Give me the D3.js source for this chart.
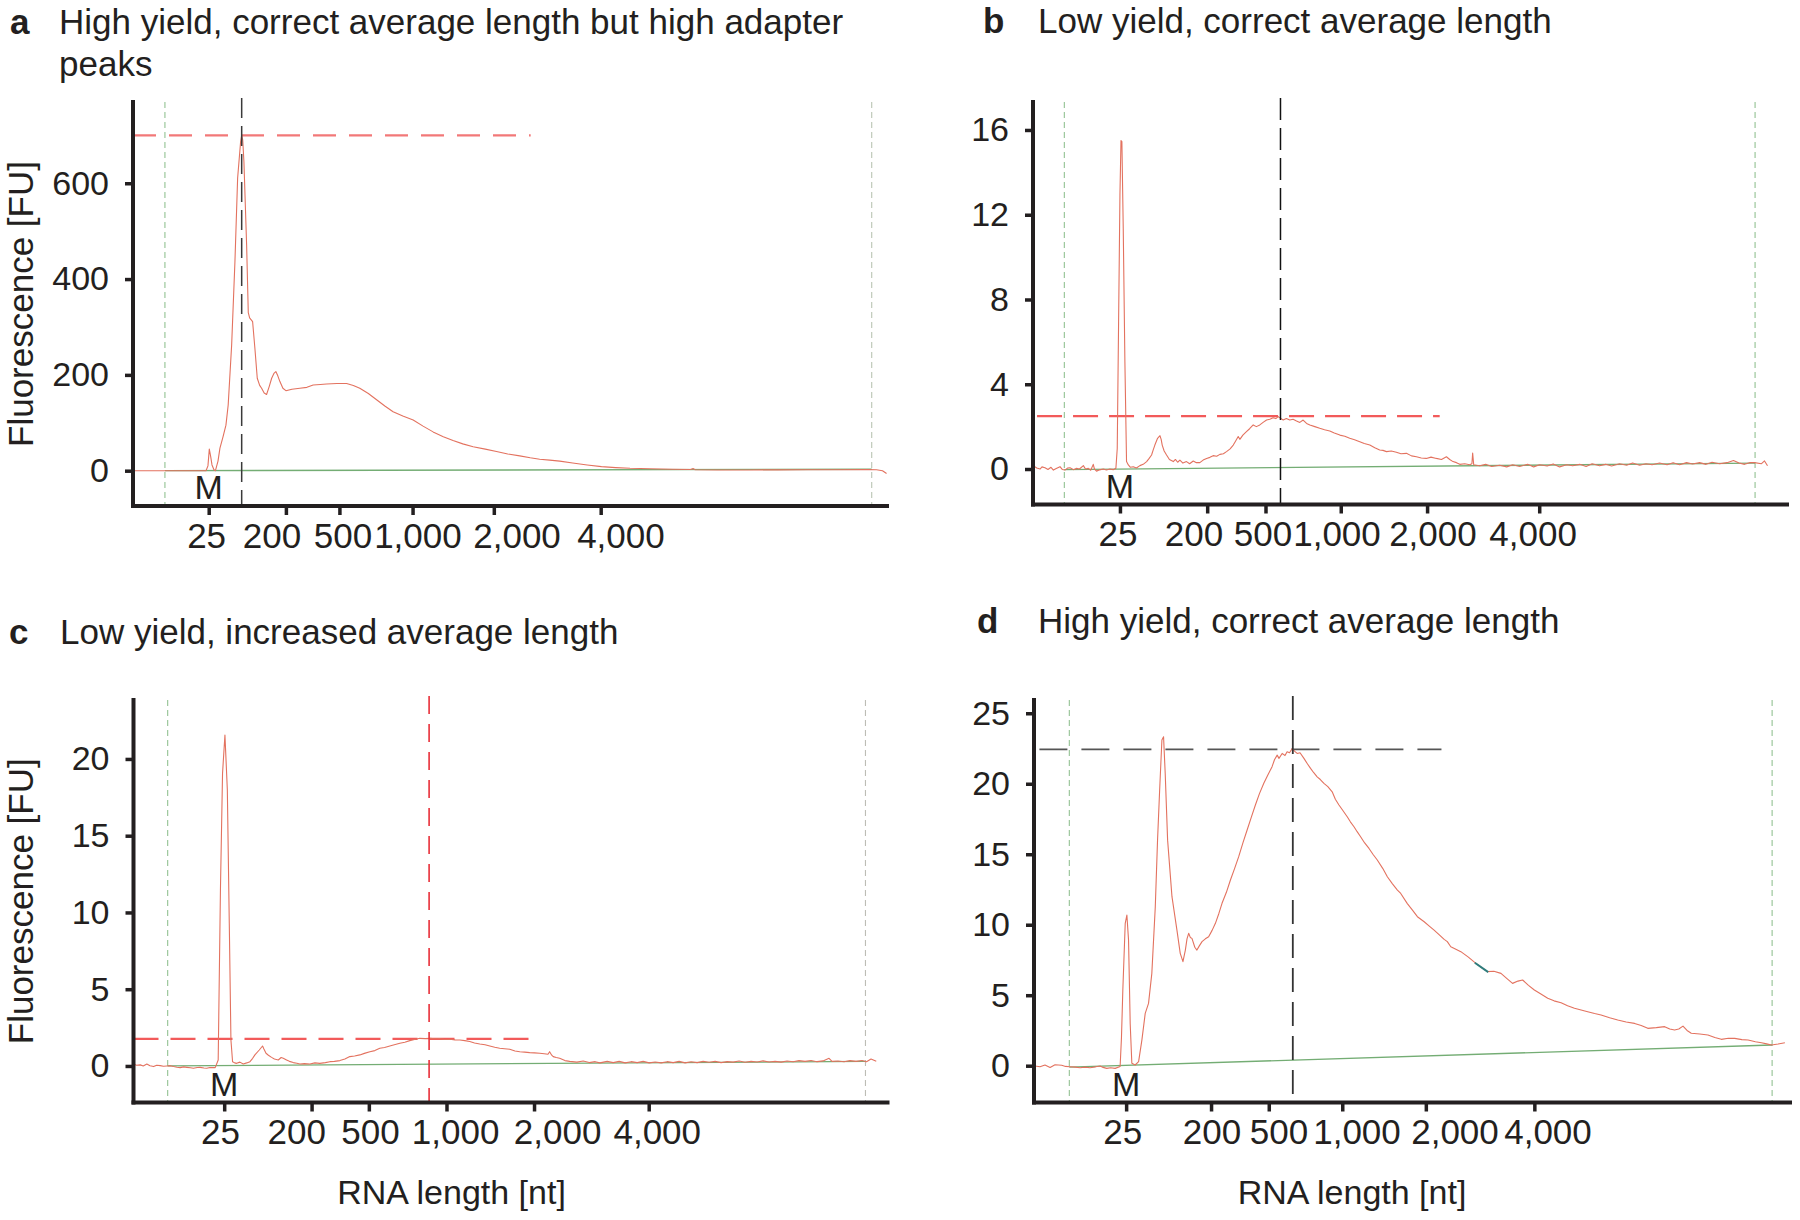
<!DOCTYPE html>
<html><head><meta charset="utf-8">
<script src="https://cdn.jsdelivr.net/npm/d3@7"></script>
<style>body{margin:0;background:#fff}</style>
</head><body>
<svg id="chart" width="1800" height="1220"></svg>
<script>
// ---------------- DATA ----------------
// x values: migration time (s); tick labels are ladder sizes (nt)
const xDomain = [19, 69.3];
const ladderLabels = ["25", "200", "500", "1,000", "2,000", "4,000"];
const panelLetters = ["a", "b", "c", "d"];
const titleA = ["High yield, correct average length but high adapter", "peaks"];
const titleB = ["Low yield, correct average length"];
const titleC = ["Low yield, increased average length"];
const titleD = ["High yield, correct average length"];
const yLabel = "Fluorescence [FU]";
const xLabel = "RNA length [nt]";
const markerLabel = "M";

// ladder migration times per run (tick marks)
const ladderA = [24.05, 29.2, 32.77, 37.65, 43.07, 50.2];
const ladderB = [24.8, 30.62, 34.51, 39.53, 45.29, 52.77];
const ladderC = [25.05, 30.88, 34.7, 39.88, 45.72, 53.37];
const ladderD = [25.13, 30.78, 34.62, 39.51, 45.07, 52.29];
// where the ladder size labels sit (time units; labels are not exactly centred on ticks)
const labelPosA = [23.91, 28.27, 33.01, 38.01, 44.62, 51.55];
const labelPosB = [24.67, 29.74, 34.34, 39.28, 45.68, 52.36];
const labelPosC = [24.81, 29.89, 34.81, 40.49, 47.29, 53.94];
const labelPosD = [24.91, 30.84, 35.3, 40.49, 47.01, 53.2];

// lower / upper marker times
const markersA = [21.13, 68.28];
const markersB = [21.09, 67.17];
const markersC = [21.28, 67.83];
const markersD = [21.35, 68.11];

// y ticks and y domains (FU)
const yTicksA = [0, 200, 400, 600];
const yTicksB = [0, 4, 8, 12, 16];
const yTicksC = [0, 5, 10, 15, 20];
const yTicksD = [0, 5, 10, 15, 20, 25];
const yDomainA = [-73.7, 769.6];
const yDomainB = [-1.675, 17.32];
const yDomainC = [-2.38, 23.84];
const yDomainD = [-2.61, 25.94];

// peak reference lines: [time of peak, FU of peak, end time of horizontal line, start time of horizontal line]
const peakA = [26.25, 700, 45.53, 19.0];
const peakB = [35.51, 2.5, 46.13, 19.27];
const peakC = [38.72, 1.76, 45.97, 19.0];
const peakD = [36.22, 22.44, 46.11, 19.36];

// baselines [time, FU]
const baselineA = [[21.13, 0], [68.28, 3]];
const baselineB = [[21.09, -0.03], [67.17, 0.28]];
const baselineC = [[21.28, 0.0], [67.83, 0.3]];
const baselineD = [[21.35, -0.1], [68.11, 1.47]];

// electropherogram traces [time (s), FU]
const traceA = [[19.0,0],[21.0,0],[23.87,0],[24.0,10],[24.09,45],[24.18,30],[24.27,12],[24.4,2],[24.5,0],[24.67,20],[24.8,47],[25.0,70],[25.2,95],[25.35,137],[25.58,262],[25.8,436],[25.98,611],[26.18,687],[26.25,700],[26.32,690],[26.4,645],[26.58,471],[26.69,330],[26.78,319],[26.98,311],[27.13,256],[27.29,193],[27.45,178],[27.58,172],[27.75,162],[27.91,159],[28.08,175],[28.25,193],[28.4,203],[28.53,207],[28.66,198],[28.8,186],[29.0,172],[29.2,167],[29.6,170],[30.13,172],[30.6,174],[31.02,179],[31.5,180],[31.91,181],[32.6,182],[33.25,182],[33.7,178],[34.13,172],[34.7,161],[35.25,148],[35.8,135],[36.35,123],[37.0,114],[37.69,106],[38.35,93],[39.02,81],[39.7,71],[40.35,63],[41.0,56],[41.69,50],[42.5,45],[43.25,40],[44.0,35],[44.8,31],[45.5,27],[46.13,24],[46.8,22],[47.47,20],[48.33,16],[49.3,12],[50.25,8.5],[51.2,6.5],[52.16,5],[53.5,4],[55,3],[56.2,2.5],[56.36,4.5],[56.5,2],[58,1.5],[60,1.5],[62,1.8],[64,2],[66,2],[68.0,2.5],[68.6,2],[69.0,0],[69.27,-6]];

const traceB = [[19.02,0.16],[19.25,0.05],[19.47,0],[19.6,0.1],[19.8,0.06],[20.0,-0.02],[20.2,0.08],[20.36,-0.05],[20.55,0.02],[20.8,0.11],[20.95,-0.02],[21.13,-0.05],[21.3,0.04],[21.47,0.06],[21.7,-0.03],[21.91,0.03],[22.1,0.0],[22.36,0.16],[22.5,0.0],[22.69,0.03],[22.85,-0.06],[23.02,0.22],[23.1,0.0],[23.24,-0.1],[23.45,-0.04],[23.69,0],[23.9,-0.05],[24.13,0],[24.35,-0.03],[24.53,0.03],[24.62,0.97],[24.71,6.95],[24.8,12.93],[24.87,15.5],[24.93,15.45],[25.02,11.36],[25.13,5.07],[25.24,0.35],[25.36,0.19],[25.5,0.08],[25.69,0.11],[25.9,0.05],[26.13,0.16],[26.35,0.22],[26.58,0.35],[26.75,0.5],[26.91,0.66],[27.02,0.9],[27.13,1.13],[27.31,1.45],[27.47,1.57],[27.55,1.4],[27.62,1.13],[27.75,0.85],[27.91,0.66],[28.1,0.45],[28.36,0.35],[28.5,0.45],[28.65,0.32],[28.8,0.42],[29.0,0.28],[29.24,0.35],[29.45,0.25],[29.69,0.38],[29.9,0.3],[30.13,0.3],[30.35,0.42],[30.58,0.5],[30.8,0.55],[31.02,0.63],[31.25,0.6],[31.47,0.69],[31.7,0.72],[31.91,0.82],[32.15,0.95],[32.36,1.13],[32.5,1.3],[32.69,1.53],[32.8,1.4],[33.0,1.6],[33.24,1.76],[33.45,1.9],[33.69,2.08],[33.9,2.0],[34.13,2.08],[34.35,2.2],[34.58,2.31],[34.8,2.35],[35.02,2.42],[35.2,2.38],[35.36,2.47],[35.5,2.4],[35.69,2.31],[35.9,2.38],[36.13,2.31],[36.35,2.35],[36.58,2.27],[36.8,2.2],[37.02,2.31],[37.25,2.15],[37.47,2.08],[37.8,2.0],[38.13,1.92],[38.45,1.85],[38.8,1.79],[39.1,1.7],[39.47,1.6],[39.8,1.55],[40.13,1.45],[40.45,1.38],[40.8,1.29],[41.1,1.2],[41.47,1.13],[41.8,1.0],[42.13,0.9],[42.35,0.88],[42.58,0.82],[42.9,0.85],[43.24,0.79],[43.55,0.72],[43.91,0.74],[44.25,0.62],[44.58,0.58],[44.9,0.52],[45.24,0.5],[45.55,0.56],[45.91,0.5],[46.25,0.45],[46.58,0.58],[46.8,0.45],[47.02,0.35],[47.25,0.3],[47.47,0.22],[47.8,0.25],[48.13,0.2],[48.28,0.25],[48.33,0.75],[48.4,0.2],[48.8,0.15],[49.2,0.22],[49.6,0.12],[50.13,0.18],[50.6,0.1],[51.0,0.2],[51.47,0.12],[52.0,0.22],[52.4,0.1],[52.8,0.2],[53.3,0.14],[53.7,0.24],[54.13,0.1],[54.6,0.2],[55.0,0.15],[55.47,0.22],[55.9,0.12],[56.3,0.25],[56.8,0.15],[57.2,0.22],[57.6,0.14],[58.13,0.25],[58.6,0.18],[59.0,0.28],[59.47,0.18],[59.9,0.25],[60.3,0.2],[60.8,0.28],[61.3,0.2],[61.7,0.3],[62.13,0.2],[62.6,0.3],[63.0,0.24],[63.47,0.3],[63.9,0.22],[64.3,0.32],[64.8,0.25],[65.3,0.3],[65.73,0.4],[66.1,0.28],[66.47,0.22],[66.8,0.3],[67.13,0.3],[67.6,0.25],[67.8,0.38],[68.0,0.15]];

const traceC = [[19.0,0.13],[19.2,0.05],[19.45,0.07],[19.65,0.0],[19.89,0.13],[20.1,0.02],[20.34,-0.04],[20.55,0.05],[20.78,0.02],[21.0,-0.02],[21.22,0],[21.45,0.02],[21.67,-0.04],[21.9,-0.08],[22.11,-0.11],[22.35,-0.06],[22.56,-0.09],[22.8,-0.12],[23.0,-0.15],[23.25,-0.1],[23.45,-0.09],[23.7,-0.13],[23.89,-0.15],[24.1,-0.1],[24.45,-0.11],[24.65,0.39],[24.8,11.47],[24.94,19.07],[25.1,21.56],[25.26,17.98],[25.39,9.29],[25.5,1.69],[25.61,0.28],[25.75,0.2],[25.88,0.17],[26.1,0.25],[26.32,0.13],[26.55,0.2],[26.77,0.28],[26.95,0.5],[27.1,0.72],[27.39,1.04],[27.61,1.3],[27.7,1.1],[27.84,0.83],[28.0,0.7],[28.21,0.56],[28.4,0.45],[28.66,0.39],[28.85,0.55],[28.99,0.5],[29.21,0.39],[29.4,0.3],[29.66,0.22],[29.9,0.18],[30.1,0.13],[30.4,0.15],[30.77,0.13],[31.1,0.2],[31.43,0.17],[31.8,0.22],[32.1,0.28],[32.4,0.3],[32.77,0.35],[33.1,0.45],[33.43,0.61],[33.75,0.65],[34.1,0.72],[34.4,0.82],[34.77,0.93],[35.1,1.0],[35.43,1.15],[35.75,1.2],[36.1,1.3],[36.4,1.38],[36.77,1.48],[37.1,1.55],[37.43,1.65],[37.75,1.72],[38.1,1.8],[38.45,1.78],[38.77,1.8],[39.1,1.77],[39.43,1.78],[39.75,1.72],[40.1,1.74],[40.45,1.7],[40.77,1.69],[41.1,1.65],[41.43,1.59],[41.75,1.5],[42.1,1.43],[42.45,1.38],[42.77,1.3],[43.1,1.22],[43.43,1.15],[43.75,1.12],[44.1,1.09],[44.45,0.98],[44.77,0.93],[45.1,0.9],[45.43,0.87],[45.75,0.85],[46.1,0.83],[46.4,0.8],[46.65,0.76],[46.76,0.93],[46.9,0.7],[47.0,0.61],[47.2,0.55],[47.43,0.5],[47.78,0.35],[48.1,0.3],[48.58,0.25],[49.0,0.32],[49.4,0.22],[49.8,0.28],[50.11,0.2],[50.6,0.3],[51.0,0.22],[51.4,0.3],[51.8,0.2],[52.2,0.28],[52.6,0.22],[53.0,0.3],[53.4,0.2],[53.8,0.26],[54.2,0.2],[54.6,0.28],[55.0,0.22],[55.4,0.3],[55.8,0.2],[56.2,0.27],[56.6,0.22],[57.0,0.3],[57.4,0.24],[57.8,0.3],[58.2,0.22],[58.6,0.28],[59.0,0.25],[59.4,0.32],[59.8,0.24],[60.2,0.3],[60.6,0.26],[61.0,0.33],[61.4,0.26],[61.8,0.3],[62.2,0.25],[62.6,0.32],[63.0,0.27],[63.4,0.35],[63.8,0.3],[64.2,0.36],[64.6,0.28],[65.0,0.33],[65.4,0.5],[65.6,0.3],[66.0,0.32],[66.4,0.27],[66.8,0.35],[67.2,0.3],[67.6,0.36],[67.9,0.28],[68.2,0.45],[68.55,0.3]];

const traceD = [[18.96,0],[19.4,-0.07],[19.73,0.05],[20.07,-0.12],[20.4,0.07],[20.84,0.03],[21.1,-0.05],[21.4,-0.07],[21.75,-0.1],[22.07,-0.14],[22.4,-0.1],[22.73,-0.14],[23.1,-0.08],[23.4,-0.02],[23.6,-0.12],[23.84,-0.19],[24.1,-0.15],[24.4,-0.19],[24.73,-0.05],[24.82,2.0],[24.91,5.37],[25.07,10.1],[25.18,10.69],[25.29,8.91],[25.4,3.0],[25.51,0.17],[25.73,0.05],[25.96,0.29],[26.18,1.83],[26.4,3.71],[26.62,4.42],[26.84,6.55],[27.07,11.28],[27.22,16.0],[27.36,19.55],[27.51,23.1],[27.62,23.33],[27.73,20.73],[27.89,16.0],[28.18,11.99],[28.51,9.62],[28.73,7.97],[28.91,7.38],[29.07,8.2],[29.18,9.0],[29.29,9.39],[29.4,9.1],[29.51,9.03],[29.7,8.4],[29.84,8.2],[30.0,8.5],[30.18,8.8],[30.4,9.0],[30.62,9.15],[30.85,9.6],[31.07,10.1],[31.3,10.8],[31.51,11.52],[31.8,12.3],[32.07,13.17],[32.35,14.0],[32.62,14.83],[32.9,15.8],[33.18,16.72],[33.45,17.6],[33.73,18.49],[34.0,19.3],[34.29,20.03],[34.55,20.6],[34.84,21.21],[35.0,21.7],[35.18,22.03],[35.3,21.8],[35.51,22.15],[35.7,22.0],[35.84,22.27],[36.0,22.2],[36.18,22.5],[36.35,22.3],[36.51,22.15],[36.7,22.2],[36.96,21.8],[37.2,21.4],[37.4,21.09],[37.6,20.8],[37.84,20.49],[38.05,20.3],[38.29,20.03],[38.55,19.8],[38.84,19.43],[39.05,18.9],[39.29,18.49],[39.55,18.1],[39.84,17.66],[40.05,17.3],[40.29,16.95],[40.5,16.6],[40.73,16.24],[41.0,15.8],[41.29,15.41],[41.55,15.0],[41.84,14.59],[42.2,14.0],[42.51,13.4],[42.85,12.9],[43.18,12.46],[43.4,12.22],[43.84,11.5],[44.18,11.04],[44.51,10.57],[44.96,10.21],[45.3,9.9],[45.62,9.62],[45.95,9.3],[46.29,8.96],[46.5,8.8],[46.73,8.44],[47.0,8.3],[47.4,8.09],[47.9,7.7],[48.4,7.26],[48.8,6.95],[49.18,6.67],[49.6,6.7],[50.07,6.55],[50.45,6.2],[50.84,5.84],[51.2,6.0],[51.51,6.08],[51.9,5.7],[52.29,5.37],[52.7,5.1],[53.18,4.78],[53.6,4.6],[54.07,4.47],[54.5,4.25],[54.96,4.07],[55.4,3.95],[55.84,3.83],[56.3,3.7],[56.73,3.6],[57.3,3.4],[57.84,3.24],[58.4,3.1],[58.96,3.0],[59.4,2.85],[59.84,2.65],[60.4,2.7],[60.96,2.77],[61.3,2.6],[61.62,2.53],[61.9,2.6],[62.18,2.81],[62.45,2.5],[62.73,2.3],[63.3,2.25],[63.84,2.18],[64.3,2.0],[64.73,1.87],[65.2,1.95],[65.62,1.94],[66.1,1.85],[66.51,1.82],[67.0,1.7],[67.4,1.63],[67.75,1.55],[68.07,1.47],[68.51,1.54],[68.96,1.63]];
const tealMarkD = [[48.33, 7.3], [49.22, 6.64]];

// ---------------- DRAWING ----------------
const FONT = "'Liberation Sans', Arial, Helvetica, sans-serif";
const INK = "#231f20";
const svg = d3.select("#chart");

const panels = [
  {letter: panelLetters[0], title: titleA, ladder: ladderA, labelPos: labelPosA, trace: traceA, base: baselineA, markers: markersA,
   markerColors: ["#93c293", "#b9c4b3"], yTicks: yTicksA, yDom: yDomainA, peak: peakA,
   hColor: "#f27878", hDash: "23,13", hWidth: 2.2, vColor: "#3a3a3a", vDash: "20,8", vWidth: 1.5,
   left: 133, top: 102, w: 754, h: 404, letterX: 10, titleX: 59, titleY: 34, yLab: true, xLab: false, extra: null},
  {letter: panelLetters[1], title: titleB, ladder: ladderB, labelPos: labelPosB, trace: traceB, base: baselineB, markers: markersB,
   markerColors: ["#93c293", "#93c293"], yTicks: yTicksB, yDom: yDomainB, peak: peakB,
   hColor: "#f25a5a", hDash: "25,11", hWidth: 2.2, vColor: "#111", vDash: "22,8", vWidth: 1.5,
   left: 1033, top: 102, w: 754, h: 402.5, letterX: 983, titleX: 1038, titleY: 33, yLab: false, xLab: false, extra: null},
  {letter: panelLetters[2], title: titleC, ladder: ladderC, labelPos: labelPosC, trace: traceC, base: baselineC, markers: markersC,
   markerColors: ["#93c293", "#bdbdb5"], yTicks: yTicksC, yDom: yDomainC, peak: peakC,
   hColor: "#f25a5a", hDash: "25,12", hWidth: 2.2, vColor: "#e8303a", vDash: "18,10", vWidth: 1.6,
   left: 133.5, top: 700, w: 754, h: 402.5, letterX: 9, titleX: 60, titleY: 644, yLab: true, xLab: true, extra: null},
  {letter: panelLetters[3], title: titleD, ladder: ladderD, labelPos: labelPosD, trace: traceD, base: baselineD, markers: markersD,
   markerColors: ["#93c293", "#93c293"], yTicks: yTicksD, yDom: yDomainD, peak: peakD,
   hColor: "#555", hDash: "28,14", hWidth: 1.8, vColor: "#333", vDash: "24,10", vWidth: 1.8,
   left: 1034, top: 700, w: 756, h: 402.5, letterX: 977, titleX: 1038, titleY: 633, yLab: false, xLab: true, extra: tealMarkD}
];

function drawPanel(p) {
  // title
  const t = svg.append("g").attr("font-family", FONT).attr("fill", INK);
  t.append("text").attr("x", p.letterX).attr("y", p.titleY).attr("font-size", 35)
    .attr("font-weight", "bold").text(p.letter);
  p.title.forEach((line, i) => {
    t.append("text").attr("x", p.titleX).attr("y", p.titleY + i * 42).attr("font-size", 35).text(line);
  });

  const g = svg.append("g").attr("transform", `translate(${p.left},${p.top})`);
  const x = d3.scaleLinear().domain(xDomain).range([0, p.w]);
  const y = d3.scaleLinear().domain(p.yDom).range([p.h, 0]);
  const line = d3.line().x(d => x(d[0])).y(d => y(d[1]));

  // marker lines
  g.selectAll(".mk").data(p.markers).join("line").attr("class", "mk")
    .attr("x1", d => x(d)).attr("x2", d => x(d)).attr("y1", 0).attr("y2", p.h)
    .attr("stroke", (d, i) => p.markerColors[i]).attr("stroke-width", 1.1).attr("stroke-dasharray", "6,4");

  // baseline
  g.append("path").datum(p.base).attr("d", line).attr("fill", "none")
    .attr("stroke", "#74ad74").attr("stroke-width", 1.3);

  // peak horizontal line
  g.append("line").attr("x1", x(p.peak[3])).attr("x2", x(p.peak[2]))
    .attr("y1", y(p.peak[1])).attr("y2", y(p.peak[1]))
    .attr("stroke", p.hColor).attr("stroke-width", p.hWidth).attr("stroke-dasharray", p.hDash);

  // trace
  g.append("path").datum(p.trace).attr("d", line).attr("fill", "none")
    .attr("stroke", "#e3725f").attr("stroke-width", 1.1).attr("stroke-linejoin", "round");

  if (p.extra) {
    g.append("path").datum(p.extra).attr("d", line).attr("fill", "none")
      .attr("stroke", "#2e7d7d").attr("stroke-width", 2);
  }

  // peak vertical line
  g.append("line").attr("x1", x(p.peak[0])).attr("x2", x(p.peak[0]))
    .attr("y1", -4).attr("y2", p.h)
    .attr("stroke", p.vColor).attr("stroke-width", p.vWidth).attr("stroke-dasharray", p.vDash);

  // axes
  const ya = g.append("g").call(d3.axisLeft(y).tickValues(p.yTicks).tickSize(8).tickPadding(16).tickSizeOuter(0));
  ya.select(".domain").remove();
  ya.selectAll(".tick line").attr("stroke", INK).attr("stroke-width", 3.5);
  ya.selectAll(".tick text").attr("font-size", 34).attr("font-family", FONT).attr("fill", INK);

  const xa = g.append("g").attr("transform", `translate(0,${p.h})`)
    .call(d3.axisBottom(x).tickValues(p.ladder).tickFormat("").tickSize(9).tickSizeOuter(0));
  xa.select(".domain").remove();
  xa.selectAll(".tick line").attr("stroke", INK).attr("stroke-width", 3.5);

  // ladder size labels
  g.append("g").selectAll("text").data(ladderLabels).join("text")
    .attr("x", (d, i) => x(p.labelPos[i])).attr("y", p.h + 17).attr("dy", "0.71em")
    .attr("text-anchor", "middle").attr("font-family", FONT).attr("font-size", 35).attr("fill", INK)
    .text(d => d);

  g.append("line").attr("x1", 0).attr("x2", 0).attr("y1", 0).attr("y2", p.h)
    .attr("stroke", INK).attr("stroke-width", 4).attr("stroke-linecap", "square");
  g.append("line").attr("x1", 0).attr("x2", p.w).attr("y1", p.h).attr("y2", p.h)
    .attr("stroke", INK).attr("stroke-width", 4).attr("stroke-linecap", "square");

  // marker label
  g.append("text").attr("x", x(p.ladder[0])).attr("y", p.h - 7).attr("text-anchor", "middle")
    .attr("font-family", FONT).attr("font-size", 34).attr("fill", INK).text(markerLabel);

  if (p.yLab) {
    g.append("text").attr("transform", `translate(${33 - p.left},${p.h / 2}) rotate(-90)`)
      .attr("text-anchor", "middle").attr("font-family", FONT).attr("font-size", 35).attr("fill", INK).text(yLabel);
  }
  if (p.xLab) {
    g.append("text").attr("x", 318).attr("y", p.h + 101.5).attr("text-anchor", "middle")
      .attr("font-family", FONT).attr("font-size", 34).attr("fill", INK).text(xLabel);
  }
}

panels.forEach(drawPanel);
</script>
</body></html>
